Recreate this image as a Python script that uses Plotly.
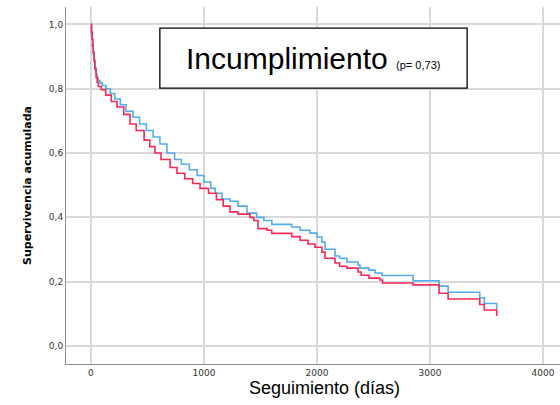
import plotly.graph_objects as go

# Kaplan-Meier survival estimates, two groups (step functions)
tiempo_a = [0, 5, 10, 15, 20, 27, 35, 45, 55, 65, 80, 100, 133, 170, 210, 260,
            310, 372, 430, 490, 550, 610, 672, 740, 800, 870, 940, 1000, 1060,
            1100, 1159, 1230, 1300, 1380, 1466, 1530, 1600, 1776, 1850, 1938,
            2000, 2044, 2071, 2159, 2200, 2265, 2363, 2380, 2460, 2513, 2575,
            2850, 3080, 3160, 3440, 3480, 3590]
superv_a = [1.0, 0.975, 0.955, 0.935, 0.915, 0.89, 0.865, 0.845, 0.832, 0.825,
            0.818, 0.81, 0.80, 0.785, 0.768, 0.75, 0.73, 0.711, 0.69, 0.67, 0.65,
            0.628, 0.60, 0.58, 0.565, 0.548, 0.53, 0.51, 0.49, 0.475, 0.457, 0.45,
            0.435, 0.413, 0.40, 0.39, 0.378, 0.370, 0.360, 0.351, 0.339, 0.323,
            0.301, 0.280, 0.273, 0.261, 0.252, 0.242, 0.236, 0.227, 0.219, 0.203,
            0.186, 0.167, 0.150, 0.132, 0.115]

tiempo_b = [0, 5, 10, 15, 20, 27, 35, 45, 55, 65, 90, 130, 180, 230, 290, 345,
            400, 470, 520, 566, 620, 700, 761, 830, 900, 965, 1040, 1110, 1170,
            1230, 1300, 1407, 1440, 1478, 1558, 1599, 1776, 1850, 1920, 1982,
            2044, 2071, 2159, 2200, 2265, 2363, 2390, 2460, 2557, 2580, 2850,
            3080, 3160, 3440, 3480, 3590]
superv_b = [1.0, 0.975, 0.955, 0.932, 0.91, 0.885, 0.86, 0.835, 0.82, 0.807,
            0.797, 0.78, 0.76, 0.743, 0.72, 0.69, 0.67, 0.64, 0.62, 0.60, 0.58,
            0.555, 0.537, 0.52, 0.505, 0.49, 0.475, 0.455, 0.435, 0.417, 0.41,
            0.40, 0.39, 0.365, 0.36, 0.35, 0.34, 0.329, 0.317, 0.307, 0.292,
            0.273, 0.258, 0.248, 0.242, 0.230, 0.220, 0.211, 0.205, 0.196, 0.190,
            0.164, 0.146, 0.129, 0.112, 0.093]

x_ticks = [0, 1000, 2000, 3000, 4000]
y_ticks = [0.0, 0.2, 0.4, 0.6, 0.8, 1.0]
y_tick_text = ["0,0", "0,2", "0,4", "0,6", "0,8", "1,0"]

fig = go.Figure()
fig.add_trace(go.Scatter(x=tiempo_a, y=superv_a, mode="lines",
                         line=dict(shape="hv", color="#52acee", width=1.6),
                         hoverinfo="skip", showlegend=False))
fig.add_trace(go.Scatter(x=tiempo_b, y=superv_b, mode="lines",
                         line=dict(shape="hv", color="#f52a55", width=1.6),
                         hoverinfo="skip", showlegend=False))

grid = "#d9d9d9"
fig.update_xaxes(range=[-221, 4150], tickvals=x_ticks,
                 ticktext=[str(v) for v in x_ticks],
                 showgrid=True, gridcolor=grid, gridwidth=1.6,
                 zeroline=False, showline=True, linecolor="#8c8c8c", linewidth=1,
                 ticks="", tickfont=dict(family="DejaVu Sans", size=9, color="#333"))
fig.update_yaxes(range=[-0.056, 1.054], tickvals=y_ticks, ticktext=y_tick_text,
                 showgrid=True, gridcolor=grid, gridwidth=1.6,
                 zeroline=False, showline=True, linecolor="#8c8c8c", linewidth=1,
                 ticks="", tickfont=dict(family="DejaVu Sans", size=9, color="#333"))

# title box
fig.add_shape(type="rect", xref="paper", yref="paper",
              x0=0.190, x1=0.812, y0=0.773, y1=0.941,
              line=dict(color="black", width=1.3), fillcolor="white", layer="above")

fig.add_annotation(xref="paper", yref="paper", x=0.499, y=0.857,
                   xanchor="center", yanchor="middle", showarrow=False,
                   text="Incumplimiento <span style='font-size:11px'>(p= 0,73)</span>",
                   font=dict(family="Liberation Sans, Arial", size=30, color="black"))

fig.add_annotation(xref="paper", yref="paper", x=(324 - 66) / 494, y=(364 - 388) / 357,
                   xanchor="center", yanchor="middle", showarrow=False,
                   text="Seguimiento (días)",
                   font=dict(family="Liberation Sans, Arial", size=18, color="black"))

fig.add_annotation(xref="paper", yref="paper", x=(27 - 66) / 494, y=(364 - 186) / 357,
                   xanchor="center", yanchor="middle", showarrow=False, textangle=-90,
                   text="<b>Supervivencia acumulada</b>",
                   font=dict(family="DejaVu Sans", size=11, color="black"))

fig.update_layout(width=560, height=405, margin=dict(l=66, r=0, t=7, b=41),
                  paper_bgcolor="white", plot_bgcolor="white", showlegend=False)

fig.write_html("out.html")
